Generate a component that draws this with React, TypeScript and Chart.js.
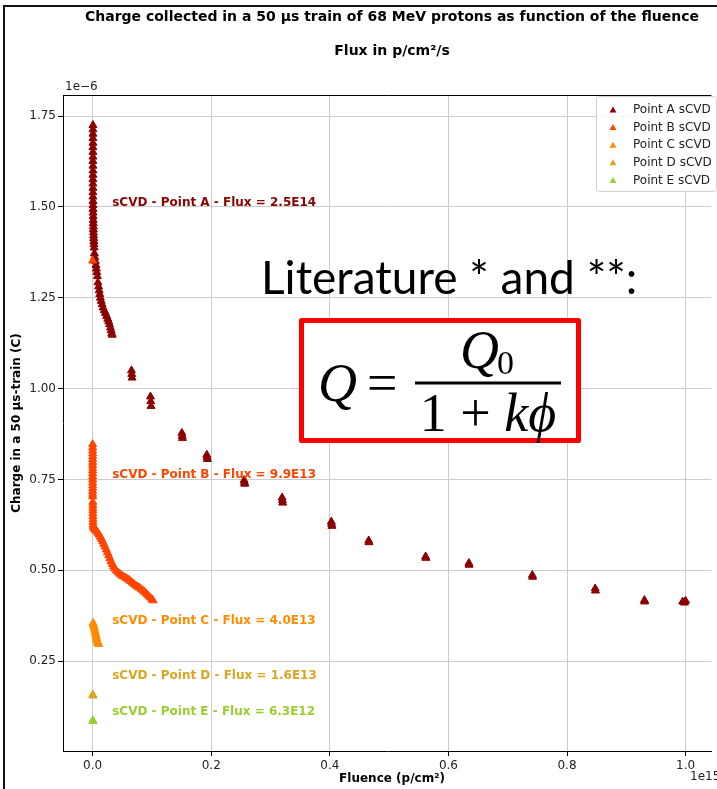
import React, { useEffect, useRef } from 'react';
import { Chart, registerables } from 'chart.js';

Chart.register(...registerables);

// ---- text ----
const TITLE_1 = 'Charge collected in a 50 µs train of 68 MeV protons as function of the fluence';
const TITLE_2 = 'Flux in p/cm²/s';
const X_LABEL = 'Fluence (p/cm²)';
const Y_LABEL = 'Charge in a 50 µs-train (C)';
const X_OFFSET = '1e15';
const Y_OFFSET = '1e\u22126';
const LIT_TEXT = 'Literature * and **:';

// ---- ticks (x in 1e15 p/cm², y in 1e-6 C) ----
const X_TICKS = [0.0, 0.2, 0.4, 0.6, 0.8, 1.0];
const Y_TICKS = [0.25, 0.5, 0.75, 1.0, 1.25, 1.5, 1.75];

// ---- series ----
const SERIES_NAMES = ['Point A sCVD', 'Point B sCVD', 'Point C sCVD', 'Point D sCVD', 'Point E sCVD'];
const SERIES_COLORS = ['#8B0000', '#FF4500', '#FF8C00', '#DAA520', '#9ACD32'];

const A_X = [
  0.0005, 0.0005, 0.0005, 0.0005, 0.0005, 0.0005, 0.0005, 0.0005, 0.0005, 0.0005,
  0.0005, 0.0005, 0.0005, 0.0005, 0.0005, 0.0005, 0.0005, 0.0006, 0.0006, 0.0007,
  0.0008, 0.0009, 0.0010, 0.0011, 0.0012, 0.0013, 0.0014, 0.0016, 0.0018, 0.0020,
  0.0022, 0.0025,
  0.0030, 0.0035, 0.0045, 0.0055, 0.0062, 0.0070, 0.0080, 0.0089, 0.0100, 0.0110,
  0.0120, 0.0130, 0.0145, 0.0160, 0.0175, 0.0195, 0.0215, 0.0235, 0.0255, 0.0270,
  0.0285, 0.0300, 0.0312, 0.0323, 0.0330,
  0.0655, 0.0660, 0.0665,
  0.0975, 0.0980, 0.0985,
  0.1505, 0.1510, 0.1515,
  0.1925, 0.1930, 0.1935,
  0.2555, 0.2560, 0.2565,
  0.3195, 0.3200, 0.3205,
  0.4025, 0.4030, 0.4035,
  0.4655, 0.4660,
  0.5615, 0.5620,
  0.6345, 0.6350,
  0.7415, 0.7420,
  0.8475, 0.8480,
  0.9305, 0.9310,
  0.9950, 0.9980, 1.0000,
];
const A_Y = [
  1.725, 1.713, 1.701, 1.689, 1.676, 1.664, 1.651, 1.638, 1.626, 1.613,
  1.600, 1.588, 1.576, 1.564, 1.552, 1.540, 1.528, 1.516, 1.505, 1.494,
  1.484, 1.474, 1.464, 1.455, 1.446, 1.438, 1.430, 1.422, 1.414, 1.406,
  1.398, 1.388,
  1.372, 1.362, 1.351, 1.340, 1.330, 1.320, 1.309, 1.292, 1.281, 1.270,
  1.260, 1.250, 1.241, 1.232, 1.223, 1.215, 1.208, 1.200, 1.192, 1.185,
  1.177, 1.168, 1.160, 1.152, 1.148,
  1.050, 1.040, 1.030,
  0.978, 0.965, 0.952,
  0.878, 0.870, 0.864,
  0.818, 0.812, 0.806,
  0.748, 0.742, 0.738,
  0.700, 0.693, 0.686,
  0.634, 0.628, 0.622,
  0.582, 0.577,
  0.538, 0.534,
  0.520, 0.515,
  0.487, 0.482,
  0.450, 0.444,
  0.418, 0.414,
  0.414, 0.411, 0.416,
];

const B_X = [
  0.0000,
  0.0000, 0.0000, 0.0000, 0.0000, 0.0000, 0.0000, 0.0000, 0.0000, 0.0000, 0.0000,
  0.0000, 0.0000, 0.0000, 0.0000, 0.0000, 0.0000, 0.0000, 0.0000, 0.0000,
  0.0003, 0.0003, 0.0003, 0.0004, 0.0004, 0.0005, 0.0005, 0.0006, 0.0007,
  0.001, 0.003, 0.005, 0.007, 0.009, 0.011, 0.013, 0.015, 0.017, 0.019,
  0.021, 0.023, 0.025, 0.027, 0.029, 0.031, 0.033, 0.035, 0.037, 0.040,
  0.043, 0.046, 0.049, 0.052, 0.055, 0.058, 0.061, 0.064, 0.067, 0.070,
  0.073, 0.076, 0.079, 0.082, 0.085, 0.088, 0.091, 0.094, 0.097, 0.100, 0.102,
];
const B_Y = [
  1.352,
  0.847, 0.838, 0.830, 0.822, 0.814, 0.806, 0.798, 0.790, 0.782, 0.774,
  0.766, 0.758, 0.750, 0.742, 0.734, 0.726, 0.718, 0.710, 0.703,
  0.688, 0.680, 0.672, 0.664, 0.656, 0.648, 0.640, 0.632, 0.625,
  0.618, 0.614, 0.611, 0.607, 0.603, 0.598, 0.592, 0.586, 0.579, 0.572,
  0.565, 0.557, 0.549, 0.541, 0.533, 0.525, 0.518, 0.511, 0.505, 0.499,
  0.494, 0.490, 0.486, 0.483, 0.480, 0.477, 0.474, 0.470, 0.466, 0.462,
  0.458, 0.455, 0.452, 0.448, 0.444, 0.440, 0.435, 0.430, 0.425, 0.420, 0.417,
];

const C_X = [0.0008, 0.0015, 0.0022, 0.0030, 0.0038, 0.0046, 0.0054, 0.0062, 0.0070, 0.0078, 0.0086, 0.0094, 0.0102];
const C_Y = [0.355, 0.350, 0.345, 0.340, 0.334, 0.328, 0.322, 0.316, 0.311, 0.306, 0.302, 0.299, 0.297];

const D_X = [0.0003, 0.0005];
const D_Y = [0.158, 0.155];

const E_X = [0.0003, 0.0005];
const E_Y = [0.087, 0.085];

const SERIES_X = [A_X, B_X, C_X, D_X, E_X];
const SERIES_Y = [A_Y, B_Y, C_Y, D_Y, E_Y];

// ---- annotations ----
const ANNOT_TEXTS = [
  'sCVD - Point A - Flux = 2.5E14',
  'sCVD - Point B - Flux = 9.9E13',
  'sCVD - Point C - Flux = 4.0E13',
  'sCVD - Point D - Flux = 1.6E13',
  'sCVD - Point E - Flux = 6.3E12',
];
const ANNOT_X = [0.033, 0.033, 0.033, 0.033, 0.033];
const ANNOT_Y = [1.51, 0.762, 0.362, 0.211, 0.112];

const SANS = '"DejaVu Sans", sans-serif';
const SERIF = '"Liberation Serif", "DejaVu Serif", serif';

function triangle(ctx: CanvasRenderingContext2D, x: number, y: number, r: number) {
  ctx.beginPath();
  ctx.moveTo(x, y - r);
  ctx.lineTo(x + r * 0.866, y + r * 0.5);
  ctx.lineTo(x - r * 0.866, y + r * 0.5);
  ctx.closePath();
}

const decorPlugin = {
  id: 'decor',
  afterDatasetsDraw(chart: any) {
    const ctx: CanvasRenderingContext2D = chart.ctx;
    const xs = chart.scales.x;
    const ys = chart.scales.y;
    const ca = chart.chartArea;
    ctx.save();
    // top spine
    ctx.strokeStyle = '#000';
    ctx.lineWidth = 1;
    ctx.beginPath();
    ctx.moveTo(ca.left, ca.top + 0.5);
    ctx.lineTo(ca.right, ca.top + 0.5);
    ctx.stroke();

    // annotations
    ctx.font = `bold 12px ${SANS}`;
    ctx.textAlign = 'left';
    ctx.textBaseline = 'middle';
    ANNOT_TEXTS.forEach((t, i) => {
      ctx.fillStyle = SERIES_COLORS[i];
      ctx.fillText(t, xs.getPixelForValue(ANNOT_X[i]), ys.getPixelForValue(ANNOT_Y[i]));
    });

    // literature text
    ctx.fillStyle = '#000';
    ctx.textBaseline = 'alphabetic';
    ctx.font = `46px Lato, "Open Sans", sans-serif`;
    ctx.fillText(LIT_TEXT, 261, 294);

    // formula box
    ctx.fillStyle = '#fff';
    ctx.fillRect(301, 320, 277, 120);
    ctx.strokeStyle = '#ff0000';
    ctx.lineWidth = 5;
    ctx.lineJoin = 'round';
    ctx.strokeRect(301.5, 320.5, 277, 120);

    ctx.fillStyle = '#000';
    ctx.font = `italic 54px ${SERIF}`;
    ctx.fillText('Q', 318, 401);
    ctx.font = `54px ${SERIF}`;
    ctx.fillText('=', 367, 401);
    ctx.fillRect(415, 381.5, 146, 3);
    // numerator
    ctx.font = `italic 54px ${SERIF}`;
    const qw = ctx.measureText('Q').width;
    ctx.font = `34px ${SERIF}`;
    const zw = ctx.measureText('0').width;
    const nx = 488 - (qw + zw) / 2;
    ctx.font = `italic 54px ${SERIF}`;
    ctx.fillText('Q', nx, 368);
    ctx.font = `34px ${SERIF}`;
    ctx.fillText('0', nx + qw - 2, 374);
    // denominator
    ctx.font = `54px ${SERIF}`;
    const p1 = '1 + ';
    const w1 = ctx.measureText(p1).width;
    ctx.font = `italic 54px ${SERIF}`;
    const w2 = ctx.measureText('k\u03D5').width;
    const dx = 488 - (w1 + w2) / 2;
    ctx.font = `54px ${SERIF}`;
    ctx.fillText(p1, dx, 431);
    ctx.font = `italic 54px ${SERIF}`;
    ctx.fillText('k\u03D5', dx + w1, 431);
    ctx.restore();
  },
  afterDraw(chart: any) {
    const ctx: CanvasRenderingContext2D = chart.ctx;
    const ca = chart.chartArea;
    ctx.save();
    // figure frame
    ctx.strokeStyle = '#111';
    ctx.lineWidth = 2;
    ctx.beginPath();
    ctx.moveTo(4, 789);
    ctx.lineTo(4, 6);
    ctx.lineTo(717, 6);
    ctx.stroke();

    const cx = (ca.left + 721) / 2;
    ctx.fillStyle = '#000';
    ctx.textAlign = 'center';
    ctx.textBaseline = 'middle';
    ctx.font = `bold 14px ${SANS}`;
    ctx.fillText(TITLE_1, cx, 17);
    ctx.fillText(TITLE_2, cx, 51);

    ctx.font = `bold 12px ${SANS}`;
    ctx.fillText(X_LABEL, cx, 779);
    ctx.save();
    ctx.translate(17, (ca.top + ca.bottom) / 2);
    ctx.rotate(-Math.PI / 2);
    ctx.fillText(Y_LABEL, 0, 0);
    ctx.restore();

    ctx.font = `12px ${SANS}`;
    ctx.textAlign = 'left';
    ctx.fillStyle = '#222';
    ctx.fillText(Y_OFFSET, 65, 87);
    ctx.fillText(X_OFFSET, 690, 777);

    // legend
    const lx = 596.5, ly = 96.5, lw = 120, lh = 95;
    ctx.fillStyle = 'rgba(255,255,255,0.85)';
    ctx.strokeStyle = '#d0d0d0';
    ctx.lineWidth = 1;
    ctx.beginPath();
    (ctx as any).roundRect(lx, ly, lw, lh, 3);
    ctx.fill();
    ctx.stroke();
    ctx.font = `12px ${SANS}`;
    ctx.textBaseline = 'middle';
    SERIES_NAMES.forEach((name, i) => {
      const y = 110 + i * 17.6;
      ctx.fillStyle = SERIES_COLORS[i];
      triangle(ctx, 613, y + 0.5, 4);
      ctx.fill();
      ctx.fillStyle = '#222';
      ctx.fillText(name, 633, y);
    });
    ctx.restore();
  },
};

export default function App() {
  const ref = useRef<HTMLCanvasElement | null>(null);
  useEffect(() => {
    document.body.style.margin = '0';
    const canvas = ref.current;
    if (!canvas) return;
    const datasets = SERIES_NAMES.map((name, i) => ({
      label: name,
      data: SERIES_X[i].map((x, j) => ({ x, y: SERIES_Y[i][j] })),
      backgroundColor: SERIES_COLORS[i],
      borderColor: SERIES_COLORS[i],
      pointStyle: 'triangle',
      pointRadius: 4.6,
      pointBorderWidth: 1,
      showLine: false,
      order: SERIES_NAMES.length - i,
    }));
    const chart = new Chart(canvas, {
      type: 'scatter',
      data: { datasets },
      options: {
        animation: false,
        responsive: false,
        devicePixelRatio: 1,
        layout: { padding: { top: 95, left: 0, right: 0, bottom: 0 } },
        plugins: { legend: { display: false }, tooltip: { enabled: false }, title: { display: false } },
        scales: {
          x: {
            type: 'linear',
            min: -0.05,
            max: 1.0435,
            afterBuildTicks: (s: any) => { s.ticks = X_TICKS.map((v) => ({ value: v })); },
            afterFit: (s: any) => { s.height = 38; },
            ticks: {
              callback: (v: any) => Number(v).toFixed(1),
              font: { family: SANS, size: 12 },
              color: '#222',
              padding: 3,
              maxRotation: 0,
            },
            grid: { color: '#cccccc', lineWidth: 1, tickLength: 5, tickColor: '#000' },
            border: { display: true, color: '#000', width: 1 },
          },
          y: {
            type: 'linear',
            min: 0.003,
            max: 1.808,
            afterBuildTicks: (s: any) => { s.ticks = Y_TICKS.map((v) => ({ value: v })); },
            afterFit: (s: any) => { s.width = 63; },
            ticks: {
              callback: (v: any) => Number(v).toFixed(2),
              font: { family: SANS, size: 12 },
              color: '#222',
              padding: 2,
            },
            grid: { color: '#cccccc', lineWidth: 1, tickLength: 5, tickColor: '#000' },
            border: { display: true, color: '#000', width: 1 },
          },
        },
      },
      plugins: [decorPlugin],
    });
    return () => chart.destroy();
  }, []);
  return (
    <div style={{ width: 717, height: 789, position: 'relative', background: '#fff' }}>
      <canvas ref={ref} width={717} height={789} />
    </div>
  );
}
